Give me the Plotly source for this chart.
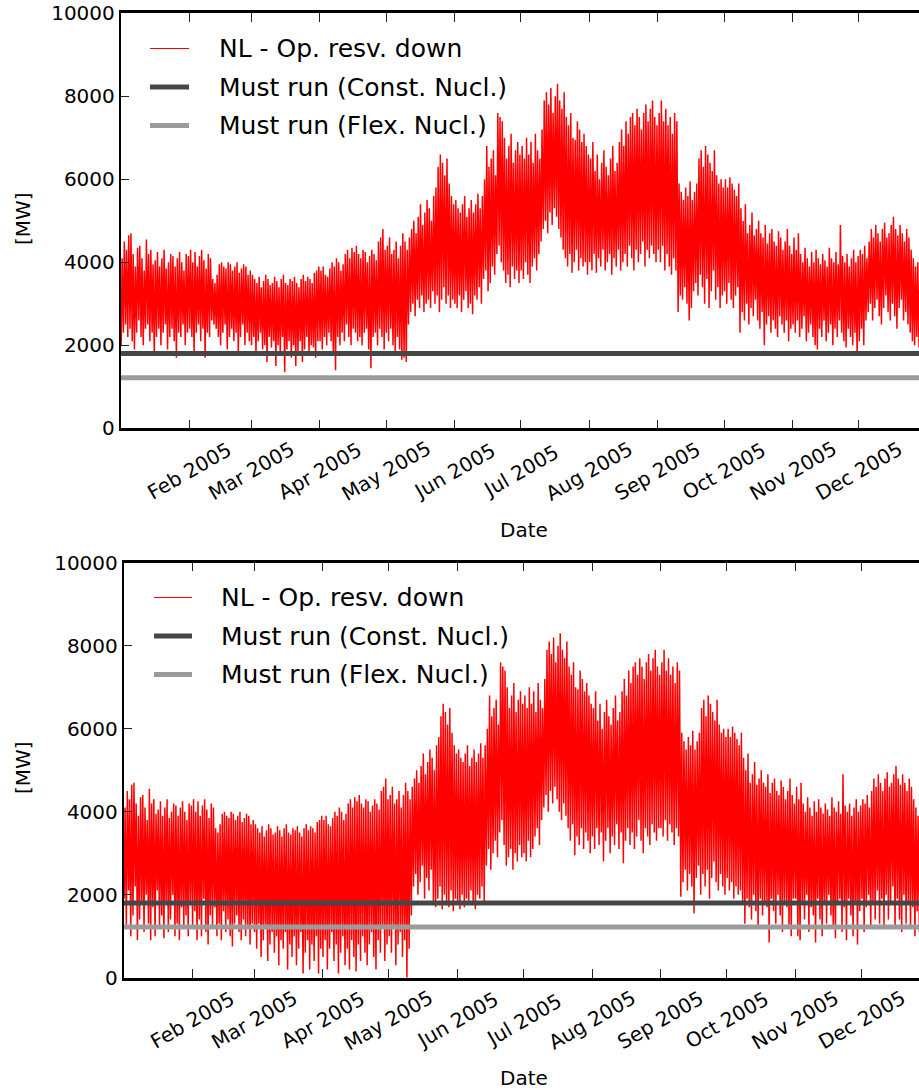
import pandas as pd
import plotly.graph_objects as go

# Daily extremes (MW) of the hourly "NL - Op. resv. down" series, 1 Jan .. 31 Dec 2005
daily_high = [
    # Jan
    4100, 4500, 4300, 4650, 4700, 4200, 3900, 4350, 4400, 4100, 3800, 4550, 4200, 4300, 3950, 4050,
    4250, 3900, 4100, 4300, 3850, 4000, 4200, 4150, 3900, 4100, 4250, 4000, 3800, 4200, 4150,
    # Feb
    4300, 4000, 4250, 3900, 4150, 4300, 4050, 3850, 4200, 4100, 3600, 3500, 3700, 3950, 4000, 3900,
    3850, 4000, 3950, 3800, 3900, 4000, 3750, 3850, 3950, 3900, 3700, 3800,
    # Mar
    3700, 3600, 3500, 3650, 3400, 3550, 3700, 3600, 3450, 3500, 3650, 3550, 3400, 3600, 3700, 3500,
    3450, 3600, 3550, 3650, 3500, 3400, 3600, 3700, 3550, 3650, 3600, 3500, 3750, 3800, 3900,
    # Apr
    3800, 3900, 3700, 3650, 3850, 4000, 3900, 4100, 4000, 3800, 3950, 4200, 4300, 4100, 4350, 4250,
    4400, 4200, 4100, 4300, 4250, 4000, 4150, 4300, 4200, 4050, 4500, 4600, 4800, 4300,
    # May
    4400, 4600, 4200, 4300, 4500, 4100, 4400, 4700, 4500, 4300, 4600, 4800, 5000, 4700, 5100, 5400,
    4900, 5200, 5500, 5300, 5000, 5600, 5800, 6300, 6600, 6400, 6100, 6500, 5900, 5600, 5400,
    # Jun
    5500, 5300, 5200, 5400, 5600, 5100, 5300, 5500, 5200, 5400, 5650, 5300, 5600, 6000, 6800, 6300,
    6500, 6700, 6100, 7600, 7500, 7400, 7000, 6500, 6800, 7100, 6400, 6700, 6900, 6600,
    # Jul
    6800, 6500, 7000, 6600, 6900, 6400, 7100, 6700, 6500, 7200, 7900, 8100, 7800, 8200, 7600, 8000,
    8300, 7900, 7700, 8100, 7500, 7300, 7600, 7000, 6950, 7400, 7200, 6900, 7100, 6800, 6600,
    # Aug
    6500, 6900, 6200, 6600, 6000, 6400, 6700, 6300, 6100, 6500, 6800, 6200, 6400, 6900, 7200, 6800,
    7400, 7100, 7500, 7600, 7300, 7700, 7500, 7200, 7600, 7800, 7400, 7700, 7900, 7500, 7300,
    # Sep
    7600, 7900, 7400, 7700, 7300, 7500, 7100, 7600, 7400, 5900, 5700, 5500, 5800, 5600, 5950, 5500,
    5700, 5900, 6500, 6700, 6300, 6800, 6600, 6400, 6200, 6700, 6100, 5900, 6000, 5800,
    # Oct
    6000, 5800, 6050, 5900, 5750, 5600, 5900, 5300, 5000, 5400, 4700, 4900, 5200, 4650, 4800, 5000,
    4700, 4600, 4900, 4450, 4700, 4800, 4500, 4400, 4750, 4600, 4300, 4500, 4800, 4400, 4200,
    # Nov
    4600, 4300, 4700, 4200, 4000, 4350, 4100, 3900, 4250, 4000, 4300, 4100, 3950, 4200, 4050, 3900,
    4350, 4100, 4000, 4250, 3950, 4900, 4150, 4000, 4200, 3900, 4100, 4300, 4000, 4150,
    # Dec
    4300, 4200, 4400, 4100, 4500, 4800, 4600, 4900, 4700, 4500, 4800, 4950, 4600, 4700, 4900, 5100,
    4800, 4650, 4900, 4700, 4500, 4800, 4600, 4300, 4100, 3900, 4000, 3800, 3900, 4000, 3850,
]

# Daily minima, upper panel
low_upper = [
    # Jan
    2000, 2300, 2500, 2200, 2400, 2100, 1900, 2300, 2600, 2200, 2000, 2400, 2500, 2100, 2300, 1750,
    2200, 2400, 2000, 2300, 2500, 1900, 2200, 2400, 2100, 1700, 2300, 2200, 2500, 2000, 2300,
    # Feb
    2400, 2200, 1800, 2300, 2500, 2100, 2400, 1700, 2300, 2200, 2600, 2500, 2400, 2200, 2000, 2300,
    2500, 1900, 2200, 2400, 2100, 2300, 1800, 2200, 2500, 2000, 2300, 2100,
    # Mar
    2000, 2200, 1800, 2100, 2300, 1900, 2000, 1600, 2200, 1950, 2100, 1500, 2000, 1800, 2200, 1350,
    1900, 2100, 1700, 2000, 1500, 1850, 2100, 1600, 1900, 2200, 1800, 2000, 1950, 1700, 2100,
    # Apr
    2100, 1900, 2200, 2000, 2300, 2100, 1800, 1400, 2200, 2000, 2300, 2100, 2500, 2200, 2000, 2400,
    2300, 2100, 2200, 2000, 2300, 2400, 1900, 1450, 2200, 2300, 2000, 2400, 2200, 1900,
    # May
    2300, 2100, 2400, 2000, 1800, 2200, 1900, 1650, 1700, 1600, 2500, 2800, 3000, 2700, 3100, 2900,
    3200, 2800, 3000, 3100, 2900, 3300, 3000, 3200, 2800, 3100, 3400, 3000, 3200, 2900, 3100,
    # Jun
    3000, 2900, 3200, 2800, 3100, 3300, 2900, 3000, 2750, 3200, 3100, 3400, 3000, 3600, 3800, 3300,
    3500, 3900, 3700, 4200, 4400, 4000, 3800, 3500, 3700, 3400, 3900, 3600, 3800, 3500,
    # Jul
    3800, 3600, 4000, 3700, 3500, 3900, 4100, 3800, 4200, 4500, 4800, 5000, 4700, 5200, 4900, 5300,
    5100, 4800, 4600, 4300, 4100, 3900, 4200, 3750, 4000, 4300, 3800, 4100, 3900, 4000, 3700,
    # Aug
    4000, 3800, 4200, 3750, 4100, 3900, 4300, 3800, 4000, 4200, 3700, 4100, 3900, 4300, 3800, 4000,
    4200, 3900, 4400, 4100, 3800, 4300, 4000, 4200, 4500, 3900, 4300, 4100, 4400, 4200, 4000,
    # Sep
    4300, 4000, 4400, 3800, 4200, 3900, 3700, 4100, 3800, 2800, 3200, 3100, 3400, 3000, 2600, 2900,
    3300, 3500, 3200, 3700, 3400, 3000, 3600, 2900, 3300, 3800, 3100, 3400, 2900, 3200,
    # Oct
    3300, 3000, 3500, 3100, 2900, 3200, 3400, 2300, 2800, 2600, 3000, 2500, 2900, 2700, 3100, 2600,
    2400, 2800, 2000, 2500, 2700, 2300, 2600, 2400, 2200, 2700, 2500, 2300, 2600, 2100, 2400,
    # Nov
    2500, 2300, 2600, 2200, 2400, 2700, 2100, 2300, 2500, 2200, 2000, 1900, 2400, 2200, 2600, 2100,
    2300, 2500, 2000, 2400, 2200, 2600, 2300, 2100, 1950, 2400, 2200, 2000, 2300, 1750,
    # Dec
    2100, 2400, 2000, 2600, 2800, 3000, 2600, 2900, 3100, 2700, 2500, 2900, 3200, 2800, 2600, 3000,
    2700, 2400, 2900, 3100, 2600, 2800, 2500, 2300, 2100, 2000, 2200, 1950, 2300, 2100, 2200,
]

# Daily minima, lower panel
low_lower = [
    # Jan
    1900, 1200, 2100, 1000, 1500, 2200, 900, 1400, 1800, 1100, 2000, 1300, 900, 1700, 1000, 2100,
    1200, 1500, 950, 1800, 1100, 1400, 2000, 1000, 1300, 900, 1700, 1200, 1500, 1000, 1800,
    # Feb
    1200, 1600, 900, 1400, 1000, 1900, 1100, 800, 1500, 1200, 1700, 1000, 1300, 900, 1600, 1100,
    1400, 1000, 750, 1300, 1500, 1100, 900, 1400, 1000, 1200, 800, 1300,
    # Mar
    1100, 700, 1300, 500, 900, 1200, 400, 800, 1100, 600, 1000, 300, 900, 700, 1100, 200,
    800, 500, 1000, 300, 700, 1100, 100, 600, 900, 200, 800, 400, 1000, 100, 700,
    # Apr
    500, 900, 200, 700, 1100, 400, 800, 100, 600, 1000, 300, 700, 200, 900, 500, 150,
    800, 400, 1000, 600, 300, 800, 1100, 500, 200, 900, 600, 1200, 400, 800,
    # May
    1000, 600, 1200, 300, 800, 1100, 500, 900, 0, 700, 1500, 2200, 2500, 2000, 2300, 2700,
    1900, 2400, 2100, 2600, 1800, 1700, 1900, 2200, 1650, 2000, 1800, 1700, 2100, 1600, 1900,
    # Jun
    1800, 1650, 2000, 1700, 1900, 1750, 2100, 1800, 1650, 2000, 1900, 2200, 1800, 2700, 3100, 2600,
    3000, 3300, 2900, 3500, 3800, 3200, 2700, 2900, 3100, 2600, 3000, 2800, 3200, 2900,
    # Jul
    3000, 2800, 3300, 2900, 3100, 3400, 3600, 3200, 3800, 4100, 4400, 4000, 4500, 4200, 4600, 4300,
    4000, 3800, 4200, 3900, 3600, 3300, 3700, 2950, 3400, 3200, 3600, 3100, 3500, 3300, 3000,
    # Aug
    3400, 3100, 3600, 3200, 3500, 2800, 3300, 3600, 3000, 3400, 3200, 3700, 3100, 3500, 2760, 3300,
    3600, 3200, 3500, 3100, 3400, 3800, 3300, 3000, 3600, 3400, 3200, 3700, 3500, 3300, 3600,
    # Sep
    3600, 3400, 3800, 3300, 3700, 3500, 3200, 3600, 3400, 1950, 2300, 2600, 2100, 2500, 2200, 1550,
    2400, 2700, 2000, 2500, 2200, 2600, 1900, 2400, 2800, 2300, 2100, 2500, 2200, 2000,
    # Oct
    2400, 2100, 2300, 1900, 2200, 2000, 2100, 1850, 1300, 1900, 1700, 1400, 2000, 1600, 1200, 1900,
    1500, 1800, 1700, 850, 1900, 1600, 1300, 2000, 1500, 1100, 1800, 1700, 1200, 1000, 1900,
    # Nov
    1900, 1000, 900, 1800, 1400, 2000, 1100, 1700, 1500, 850, 1900, 1400, 1000, 1800, 1300, 2000,
    1500, 1200, 950, 1800, 1900, 1100, 1700, 900, 1900, 1500, 1000, 1800, 800, 1600,
    # Dec
    1900, 1100, 1700, 2000, 1200, 1800, 1400, 2100, 1300, 1900, 1200, 2000, 1400, 1800, 2200, 1200,
    1900, 1400, 1100, 2000, 1300, 1800, 1200, 1700, 1000, 1600, 1100, 1000, 1500, 1200, 1100,
]

must_run_const = 1800   # MW, constant nuclear
must_run_flex = 1220    # MW, flexible nuclear

month_ticks = ['2005-02-01', '2005-03-01', '2005-04-01', '2005-05-01', '2005-06-01', '2005-07-01',
               '2005-08-01', '2005-09-01', '2005-10-01', '2005-11-01', '2005-12-01']
month_labels = ['Feb 2005', 'Mar 2005', 'Apr 2005', 'May 2005', 'Jun 2005', 'Jul 2005',
                'Aug 2005', 'Sep 2005', 'Oct 2005', 'Nov 2005', 'Dec 2005']
y_ticks = [0, 2000, 4000, 6000, 8000, 10000]

series_names = ['NL - Op. resv. down', 'Must run (Const. Nucl.)', 'Must run (Flex. Nucl.)']

W, H = 919, 1090
FONT = 'DejaVu Sans'
RED, DARK, LIGHT = '#ff0000', '#464646', '#9b9b9b'


def fx(px):
    return px / W


def fy(py):
    return 1 - py / H


days = pd.date_range('2005-01-01', periods=len(daily_high), freq='D')


def zigzag(lows, highs):
    xs, ys = [], []
    for d, lo, hi in zip(days, lows, highs):
        xs += [d + pd.Timedelta(hours=4), d + pd.Timedelta(hours=14)]
        ys += [lo, hi]
    return xs, ys


fig = go.Figure()

# panel geometry in pixels: (left, top, bottom, x-range end)
panels = [
    dict(xa='x', ya='y', left=120.8, top=13.3, bottom=428.3, end='2005-12-28 03:36', lows=low_upper,
         leg_x=(150, 189), leg_text=216.5, leg_y=(48.5, 87, 125.5), lab_y=471, date_y=530, mw_y=219),
    dict(xa='x2', ya='y2', left=123.8, top=562.7, bottom=977.7, end='2005-12-27 00:00', lows=low_lower,
         leg_x=(154, 192), leg_text=219, leg_y=(597.5, 636, 674.5), lab_y=1020, date_y=1078, mw_y=768),
]

shapes, annotations = [], []
for i, p in enumerate(panels):
    xs, ys = zigzag(p['lows'], daily_high)
    fig.add_trace(go.Scatter(x=xs, y=ys, mode='lines', line=dict(color=RED, width=1.5),
                             name=series_names[0], xaxis=p['xa'], yaxis=p['ya'], showlegend=False))
    span = [days[0], days[-1] + pd.Timedelta(days=1)]
    fig.add_trace(go.Scatter(x=span, y=[must_run_const] * 2, mode='lines', line=dict(color=DARK, width=5),
                             name=series_names[1], xaxis=p['xa'], yaxis=p['ya'], showlegend=False))
    fig.add_trace(go.Scatter(x=span, y=[must_run_flex] * 2, mode='lines', line=dict(color=LIGHT, width=5),
                             name=series_names[2], xaxis=p['xa'], yaxis=p['ya'], showlegend=False))

    sfx = '' if i == 0 else '2'
    fig.update_layout({
        'xaxis' + sfx: dict(domain=[fx(p['left']), 1], anchor=p['ya'], type='date', automargin=False,
                            range=['2005-01-01', p['end']], tickvals=month_ticks, showticklabels=False,
                            ticks='inside', ticklen=9, tickwidth=1, tickcolor='#222',
                            showline=True, linewidth=2.5, linecolor='black', mirror='ticks',
                            showgrid=False, zeroline=False),
        'yaxis' + sfx: dict(domain=[fy(p['bottom']), fy(p['top'])], anchor=p['xa'], range=[0, 10000],
                            automargin=False, tickvals=y_ticks, ticktext=[str(v) for v in y_ticks],
                            ticks='inside', ticklen=8, tickwidth=1, tickcolor='#222',
                            showline=True, linewidth=2, linecolor='black',
                            showgrid=False, zeroline=False,
                            tickfont=dict(family=FONT, size=20, color='black')),
    })

    # legend block
    for (color, width), ly, name in zip([(RED, 1), (DARK, 5), (LIGHT, 5)], p['leg_y'], series_names):
        shapes.append(dict(type='line', xref='paper', yref='paper',
                           x0=fx(p['leg_x'][0]), x1=fx(p['leg_x'][1]), y0=fy(ly), y1=fy(ly),
                           line=dict(color=color, width=width)))
        annotations.append(dict(text=name, xref='paper', yref='paper', x=fx(p['leg_text']), y=fy(ly),
                                xanchor='left', yanchor='middle', showarrow=False,
                                font=dict(family=FONT, size=25, color='black')))

    # rotated month labels centred under each tick
    for t, lab in zip(month_ticks, month_labels):
        annotations.append(dict(text=lab, xref=p['xa'], yref='paper', x=t, y=fy(p['lab_y']),
                                xanchor='center', yanchor='middle', textangle=-30, showarrow=False,
                                font=dict(family=FONT, size=20, color='black')))
    annotations.append(dict(text='Date', xref='paper', yref='paper', x=fx(524), y=fy(p['date_y']),
                            xanchor='center', yanchor='middle', showarrow=False,
                            font=dict(family=FONT, size=20, color='black')))
    annotations.append(dict(text='[MW]', xref='paper', yref='paper', x=fx(23), y=fy(p['mw_y']),
                            xanchor='center', yanchor='middle', textangle=-90, showarrow=False,
                            font=dict(family=FONT, size=20, color='black')))

fig.update_layout(width=W, height=H, autosize=False, margin=dict(l=0, r=0, t=0, b=0, pad=0),
                  paper_bgcolor='white', plot_bgcolor='white', showlegend=False,
                  font=dict(family=FONT, size=20, color='black'),
                  shapes=shapes, annotations=annotations)

# the figure fills the whole page, so drop the default body margin
fig.write_html('out.html',
               post_script="document.body.style.margin='0';document.body.style.overflow='hidden';")
